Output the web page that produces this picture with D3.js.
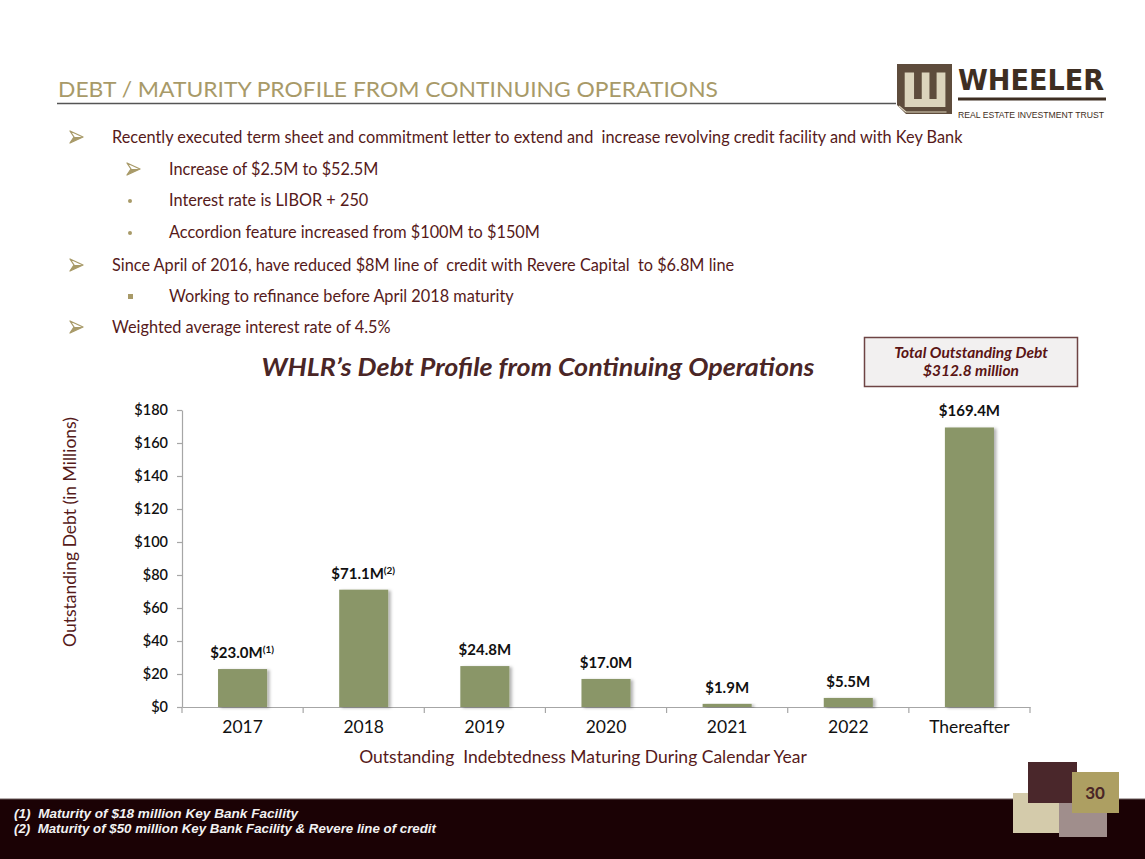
<!DOCTYPE html>
<html>
<head>
<meta charset="utf-8">
<script src="https://cdn.jsdelivr.net/npm/d3@7"></script>
<style>
  html, body { margin: 0; padding: 0; background: #fff; }
  svg { display: block; }
</style>
</head>
<body>
<svg id="chart" width="1145" height="859"></svg>
<script>
// ---------- data ----------
const categories = ["2017", "2018", "2019", "2020", "2021", "2022", "Thereafter"];
const debtValues = [23.0, 71.1, 24.8, 17.0, 1.9, 5.5, 169.4];
const valueLabels = ["$23.0M", "$71.1M", "$24.8M", "$17.0M", "$1.9M", "$5.5M", "$169.4M"];
const valueNotes = ["(1)", "(2)", "", "", "", "", ""];
const yTicks = [0, 20, 40, 60, 80, 100, 120, 140, 160, 180];
const yTickLabels = ["$0", "$20", "$40", "$60", "$80", "$100", "$120", "$140", "$160", "$180"];

const pageTitle = "DEBT / MATURITY PROFILE FROM CONTINUING OPERATIONS";
const chartTitle = "WHLR\u2019s Debt Profile from Continuing Operations";
const totalBoxLines = ["Total Outstanding Debt", "$312.8 million"];
const yAxisTitle = "Outstanding Debt (in Millions)";
const xAxisTitle = "Outstanding  Indebtedness Maturing During Calendar Year";
const bullets = [
  { level: 1, marker: "arrow", text: "Recently executed term sheet and commitment letter to extend and  increase revolving credit facility and with Key Bank" },
  { level: 2, marker: "arrow", text: "Increase of $2.5M to $52.5M" },
  { level: 2, marker: "dot", text: "Interest rate is LIBOR + 250" },
  { level: 2, marker: "dot", text: "Accordion feature increased from $100M to $150M" },
  { level: 1, marker: "arrow", text: "Since April of 2016, have reduced $8M line of  credit with Revere Capital  to $6.8M line" },
  { level: 2, marker: "square", text: "Working to refinance before April 2018 maturity" },
  { level: 1, marker: "arrow", text: "Weighted average interest rate of 4.5%" }
];
const footnotes = ["(1)  Maturity of $18 million Key Bank Facility",
                   "(2)  Maturity of $50 million Key Bank Facility & Revere line of credit"];
const pageNumber = "30";

// ---------- setup ----------
const svg = d3.select("#chart");
const maroon = "#561a1a";
const gold = "#a89a68";
const font = "Lato, 'Open Sans', sans-serif";

const defs = svg.append("defs");
const f = defs.append("filter").attr("id", "shadow")
  .attr("x", "-20%").attr("y", "-20%").attr("width", "150%").attr("height", "140%");
f.append("feDropShadow").attr("dx", 2.5).attr("dy", 1).attr("stdDeviation", 1.6)
  .attr("flood-color", "#000").attr("flood-opacity", 0.3);

// ---------- header ----------
svg.append("text")
  .attr("x", 58).attr("y", 97)
  .attr("font-family", font).attr("font-size", 21)
  .attr("fill", gold)
  .attr("textLength", 660).attr("lengthAdjust", "spacingAndGlyphs")
  .text(pageTitle);

svg.append("line")
  .attr("x1", 57).attr("x2", 896).attr("y1", 103.5).attr("y2", 103.5)
  .attr("stroke", "#555").attr("stroke-width", 1.6);

// logo
const lg = svg.append("g").attr("transform", "translate(897,64)");
const lw = 55, lh = 50;
lg.append("path")
  .attr("d", `M0,0 H${lw} V${lh} H9 L0,${lh - 9} Z`)
  .attr("fill", "#5e4c3c");
const bx = (a) => a * lw, by = (a) => a * lh;
lg.append("path")
  .attr("d", `M${bx(0.14)},${by(0.17)} H${bx(0.31)} V${by(0.70)} H${bx(0.45)} V${by(0.17)} H${bx(0.59)} V${by(0.70)} H${bx(0.72)} V${by(0.17)} H${bx(0.88)} V${by(0.86)} H${bx(0.14)} Z`)
  .attr("fill", "#dcd4bc");
lg.append("path")
  .attr("d", `M2,${lh - 8} L9,${lh - 2} H${bx(0.9)}`)
  .attr("fill", "none").attr("stroke", "#dcd4bc").attr("stroke-width", 1.2);

svg.append("text")
  .attr("x", 958).attr("y", 90)
  .attr("font-family", "'DejaVu Sans Condensed', 'DejaVu Sans', sans-serif")
  .attr("font-weight", "bold").attr("font-size", 29)
  .attr("fill", "#3e2e22")
  .attr("textLength", 146).attr("lengthAdjust", "spacingAndGlyphs")
  .text("WHEELER");
svg.append("rect")
  .attr("x", 958).attr("y", 97.5).attr("width", 148).attr("height", 3)
  .attr("fill", "#3e2e22");
svg.append("text")
  .attr("x", 958).attr("y", 118)
  .attr("font-family", "'Liberation Sans', Arial, sans-serif")
  .attr("font-size", 9.2).attr("fill", "#3e2e22")
  .attr("textLength", 146).attr("lengthAdjust", "spacingAndGlyphs")
  .text("REAL ESTATE INVESTMENT TRUST");

// ---------- bullets ----------
const bulletY = [143, 175, 206, 238, 271, 302, 333];
const bg = svg.append("g");
bullets.forEach((b, i) => {
  const y = bulletY[i];
  const mx = b.level === 1 ? 70 : 127;
  const tx = b.level === 1 ? 112 : 169;
  if (b.marker === "arrow") {
    bg.append("path")
      .attr("d", `M${mx},${y - 12} L${mx + 13},${y - 6} L${mx},${y} L${mx + 4},${y - 6} Z`)
      .attr("fill", "#fff").attr("stroke", gold).attr("stroke-width", 1.3)
      .attr("stroke-linejoin", "round");
    bg.append("path")
      .attr("d", `M${mx + 4},${y - 6} L${mx + 13},${y - 6} L${mx},${y} Z`)
      .attr("fill", gold);
  } else if (b.marker === "dot") {
    bg.append("circle").attr("cx", mx + 3).attr("cy", y - 5).attr("r", 2).attr("fill", gold);
  } else {
    bg.append("rect").attr("x", mx + 1).attr("y", y - 8).attr("width", 5).attr("height", 5).attr("fill", gold);
  }
  bg.append("text")
    .attr("x", tx).attr("y", y)
    .attr("font-family", font).attr("font-size", 16.3)
    .attr("fill", maroon)
    .attr("xml:space", "preserve")
    .style("white-space", "pre")
    .text(b.text);
});

// ---------- chart ----------
const x = d3.scaleBand()
  .domain(categories)
  .range([182, 1030])
  .paddingInner(0.595)
  .paddingOuter(0.2975);

const y = d3.scaleLinear()
  .domain([0, 180])
  .range([707, 410]);

svg.append("text")
  .attr("x", 538).attr("y", 376)
  .attr("text-anchor", "middle")
  .attr("font-family", font).attr("font-style", "italic").attr("font-weight", "bold")
  .attr("font-size", 24).attr("fill", "#4a2626")
  .attr("textLength", 553).attr("lengthAdjust", "spacingAndGlyphs")
  .text(chartTitle);

// total box
svg.append("rect")
  .attr("x", 864.5).attr("y", 337.5).attr("width", 213).attr("height", 49)
  .attr("fill", "#f2f0f0").attr("stroke", "#6e4444").attr("stroke-width", 1.5);
const boxLens = [166, 99];
totalBoxLines.forEach((t, i) => {
  svg.append("text")
    .attr("x", 971).attr("y", 358 + i * 18)
    .attr("text-anchor", "middle")
    .attr("font-family", font).attr("font-style", "italic").attr("font-weight", "bold")
    .attr("font-size", 15.5).attr("fill", "#5a1414")
    .text(t);
});

// y axis
const yAxis = d3.axisLeft(y)
  .tickValues(yTicks)
  .tickFormat((d, i) => yTickLabels[i])
  .tickSize(5).tickSizeOuter(0).tickPadding(9);
const yg = svg.append("g").attr("transform", "translate(182,0)").call(yAxis);
yg.select(".domain").attr("stroke", "#a6a6a6").attr("stroke-width", 1.2);
yg.selectAll(".tick line").attr("stroke", "#a6a6a6").attr("stroke-width", 1.2);
yg.selectAll(".tick text")
  .attr("font-family", font).attr("font-size", 14.5).attr("font-weight", 600)
  .attr("fill", "#111");

// x axis
const xAxis = d3.axisBottom(x).tickSize(0).tickSizeOuter(0).tickPadding(14);
const xg = svg.append("g").attr("transform", "translate(0,707)").call(xAxis);
xg.select(".domain").attr("stroke", "#a6a6a6").attr("stroke-width", 1.2);
xg.selectAll(".tick text")
  .attr("font-family", font).attr("font-size", 17.5)
  .attr("fill", "#111");
// category boundary ticks
const boundaries = d3.range(categories.length + 1).map(i => x.range()[0] + i * x.step());
xg.selectAll(".bound").data(boundaries).join("line")
  .attr("class", "bound")
  .attr("x1", d => d).attr("x2", d => d)
  .attr("y1", 0).attr("y2", 6)
  .attr("stroke", "#a6a6a6").attr("stroke-width", 1.2);

// bars
svg.append("g").selectAll("rect").data(debtValues).join("rect")
  .attr("x", (d, i) => x(categories[i]))
  .attr("y", d => y(d))
  .attr("width", x.bandwidth())
  .attr("height", d => y(0) - y(d))
  .attr("fill", "#8a9668")
  .attr("filter", "url(#shadow)");

// value labels
const lbl = svg.append("g").selectAll("text").data(debtValues).join("text")
  .attr("x", (d, i) => x(categories[i]) + x.bandwidth() / 2 + (valueNotes[i] ? -0.5 : 0))
  .attr("y", d => y(d) - 11)
  .attr("text-anchor", "middle")
  .attr("font-family", font).attr("font-weight", "bold")
  .attr("font-size", 15).attr("fill", "#111");
lbl.each(function (d, i) {
  const t = d3.select(this);
  t.append("tspan").text(valueLabels[i]);
  if (valueNotes[i]) {
    t.append("tspan").attr("dy", -5).attr("font-size", 10).text(valueNotes[i]);
  }
});

// axis titles
svg.append("text")
  .attr("transform", "translate(76,532) rotate(-90)")
  .attr("text-anchor", "middle")
  .attr("font-family", font).attr("font-size", 17.5)
  .attr("fill", maroon)
  .text(yAxisTitle);

svg.append("text")
  .attr("x", 583).attr("y", 763)
  .attr("text-anchor", "middle")
  .attr("font-family", font).attr("font-size", 17.5)
  .attr("fill", maroon)
  .attr("xml:space", "preserve")
  .style("white-space", "pre")
  .text(xAxisTitle);

// ---------- footer ----------
svg.append("rect").attr("x", 0).attr("y", 799).attr("width", 1145).attr("height", 60).attr("fill", "#1b0205");
svg.append("line").attr("x1", 0).attr("x2", 1145).attr("y1", 799).attr("y2", 799).attr("stroke", "#6b5a5a").attr("stroke-width", 1);
const footLens = [284, 422];
footnotes.forEach((t, i) => {
  svg.append("text")
    .attr("x", 14).attr("y", 818 + i * 15)
    .attr("font-family", "'Liberation Sans', Arial, sans-serif")
    .attr("font-style", "italic").attr("font-weight", "bold")
    .attr("font-size", 12.5).attr("fill", "#f2f2f2")
    .attr("xml:space", "preserve").style("white-space", "pre")
    .attr("textLength", footLens[i]).attr("lengthAdjust", "spacingAndGlyphs")
    .text(t);
});

// decorative squares
const squares = [
  { x: 1013, y: 793, w: 47, h: 40, c: "#d4cbab" },
  { x: 1059, y: 800, w: 48, h: 37, c: "#a08e8c" },
  { x: 1028, y: 762, w: 49, h: 41, c: "#4a272b" },
  { x: 1072, y: 772, w: 47, h: 41, c: "#ad9f62" }
];
svg.append("g").selectAll("rect").data(squares).join("rect")
  .attr("x", d => d.x).attr("y", d => d.y).attr("width", d => d.w).attr("height", d => d.h)
  .attr("fill", d => d.c);
svg.append("text")
  .attr("x", 1095).attr("y", 799)
  .attr("text-anchor", "middle")
  .attr("font-family", font).attr("font-weight", "bold")
  .attr("font-size", 17).attr("fill", "#4a2626")
  .text(pageNumber);
</script>
</body>
</html>
